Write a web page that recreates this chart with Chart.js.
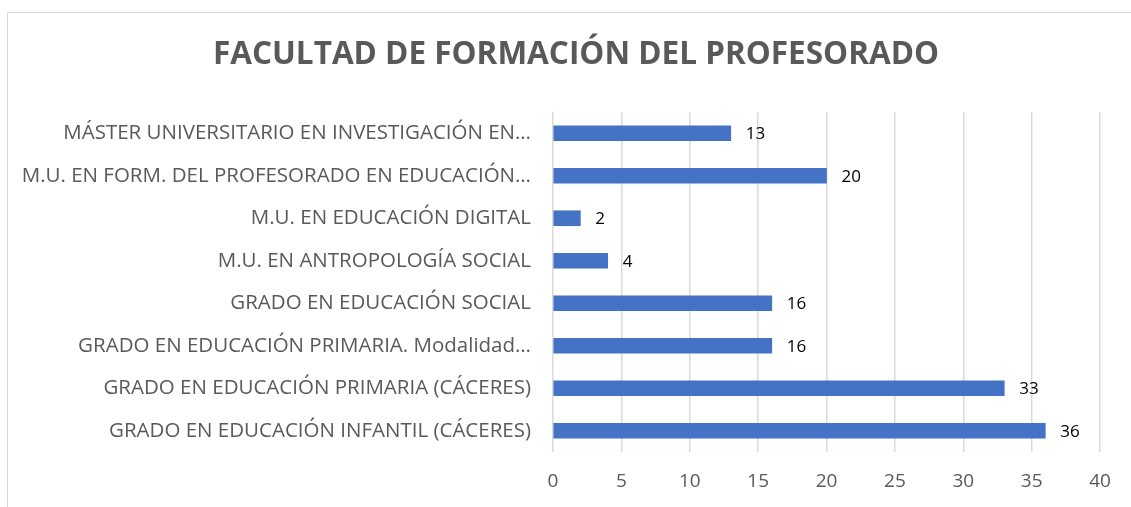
<!DOCTYPE html>
<html>
<head>
<meta charset="utf-8">
<script src="https://cdn.jsdelivr.net/npm/chart.js@4/dist/chart.umd.min.js"></script>
<style>
  html, body { margin: 0; padding: 0; background: #fff; overflow: hidden; }
  #box { position: absolute; left: 7px; top: 12px; width: 1138px; height: 510px;
         border: 1px solid #d9d9d9; box-sizing: border-box; }
  #chart { display: block; }
</style>
</head>
<body>
<div id="box"><canvas id="chart" width="1136" height="494"></canvas></div>
<script>
// datos (de arriba a abajo)
const titulo = "FACULTAD DE FORMACIÓN DEL PROFESORADO";
const titulaciones = [
  "MÁSTER UNIVERSITARIO EN INVESTIGACIÓN EN…",
  "M.U. EN FORM. DEL PROFESORADO EN EDUCACIÓN…",
  "M.U. EN EDUCACIÓN DIGITAL",
  "M.U. EN ANTROPOLOGÍA SOCIAL",
  "GRADO EN EDUCACIÓN SOCIAL",
  "GRADO EN EDUCACIÓN PRIMARIA. Modalidad…",
  "GRADO EN EDUCACIÓN PRIMARIA (CÁCERES)",
  "GRADO EN EDUCACIÓN INFANTIL (CÁCERES)",
];
const valores = [13, 20, 2, 4, 16, 16, 33, 36];
const ejeX = [0, 5, 10, 15, 20, 25, 30, 35, 40];

const FONT = "'Open Sans', 'Noto Sans', sans-serif";
const GRIS = "#595959";

// título centrado sobre todo el marco (no sólo sobre el área sin padding)
const tituloPlugin = {
  id: "tituloMarco",
  afterDraw(chart) {
    const { ctx } = chart;
    ctx.save();
    ctx.font = "bold 31.5px " + FONT;
    ctx.fillStyle = GRIS;
    ctx.textAlign = "center";
    ctx.textBaseline = "middle";
    ctx.fillText(titulo, chart.width / 2, 42);
    ctx.restore();
  },
};

// etiquetas de valor a la derecha de cada barra
const etiquetas = {
  id: "etiquetas",
  afterDatasetsDraw(chart) {
    const { ctx } = chart;
    const meta = chart.getDatasetMeta(0);
    ctx.save();
    ctx.font = "17px " + FONT;
    ctx.fillStyle = "#000";
    ctx.textAlign = "left";
    ctx.textBaseline = "middle";
    meta.data.forEach((bar, i) => {
      ctx.fillText(String(valores[i]), bar.x + 15, bar.y + 1);
    });
    ctx.restore();
  },
};

new Chart(document.getElementById("chart"), {
  type: "bar",
  data: {
    labels: titulaciones,
    datasets: [{ data: valores, backgroundColor: "#4472c4", barThickness: 15 }],
  },
  plugins: [etiquetas, tituloPlugin],
  options: {
    indexAxis: "y",
    responsive: false,
    animation: false,
    layout: { padding: { left: 0, right: 44, top: 99, bottom: 0 } },
    plugins: {
      legend: { display: false },
      tooltip: { enabled: false },
      title: { display: false },
    },
    scales: {
      x: {
        min: 0, max: 40,
        afterBuildTicks: (s) => { s.ticks = ejeX.map((v) => ({ value: v })); },
        afterFit: (s) => { s.height = 55; },
        grid: { color: "#d9d9d9", lineWidth: 1.5, drawTicks: false },
        border: { display: false },
        ticks: { color: GRIS, font: { family: FONT, size: 19 }, padding: 18 },
      },
      y: {
        afterFit: (s) => { s.width = 545; },
        grid: { display: false, drawTicks: false },
        border: { display: false },
        ticks: { color: GRIS, font: { family: FONT, size: 20.5 }, padding: 22, autoSkip: false },
      },
    },
  },
});
</script>
</body>
</html>
